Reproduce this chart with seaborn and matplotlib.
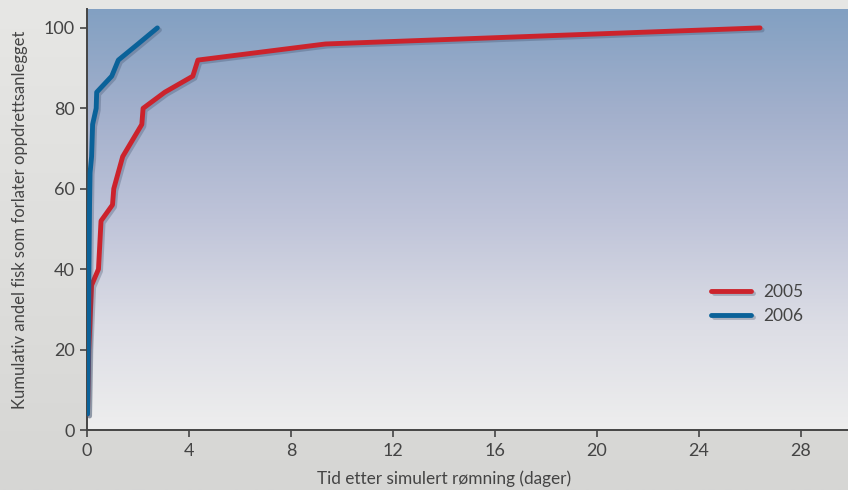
"""Cumulative share of escaped fish leaving the farm, 2005 vs 2006."""

import matplotlib
matplotlib.use("Agg")
import matplotlib.pyplot as plt
import matplotlib.patheffects as pe
import numpy as np
import pandas as pd
import seaborn as sns
from matplotlib.colors import LinearSegmentedColormap

# data
days_2005 = [0.02, 0.07, 0.18, 0.45, 0.55, 1.0, 1.05, 1.4, 2.15, 2.2, 3.05, 4.15, 4.35, 9.35, 26.4]
share_2005 = [4, 20, 36, 40, 52, 56, 60, 68, 76, 80, 84, 88, 92, 96, 100]
days_2006 = [0.02, 0.05, 0.07, 0.1, 0.12, 0.18, 0.22, 0.36, 0.38, 0.97, 1.23, 2.0, 2.76]
share_2006 = [4, 20, 36, 56, 64, 68, 76, 80, 84, 88, 92, 96, 100]
x_ticks = [0, 4, 8, 12, 16, 20, 24, 28]
y_ticks = [0, 20, 40, 60, 80, 100]

df = pd.concat([
    pd.DataFrame({"dager": days_2005, "andel": share_2005, "år": "2005"}),
    pd.DataFrame({"dager": days_2006, "andel": share_2006, "år": "2006"}),
])
palette = {"2005": "#cc232c", "2006": "#0b6299"}
text_col = "#444444"
x_max = 29.85

sns.set_style("ticks")
plt.rcParams["font.family"] = ["Lato", "DejaVu Sans"]

fig = plt.figure(figsize=(8.48, 4.9), dpi=100)

# figure background gradient
bg = fig.add_axes([0, 0, 1, 1], zorder=-10)
bg.imshow(np.linspace(0, 1, 256).reshape(-1, 1), aspect="auto",
          cmap=LinearSegmentedColormap.from_list("fig", ["#e7e7e5", "#d6d6d4"]),
          extent=[0, 1, 0, 1])
bg.axis("off")

ax = fig.add_axes([87 / 848, 60 / 490, 1 - 87 / 848, (430 - 9) / 490])
ax.set_xlim(0, x_max)
ax.set_ylim(0, 104.7)
ax.imshow(np.linspace(0, 1, 256).reshape(-1, 1), aspect="auto", zorder=0,
          cmap=LinearSegmentedColormap.from_list(
              "ax", ["#82a0c2", "#a3b0cc", "#bfc4d9", "#dcdde5", "#eeeeee"]),
          extent=[0, x_max, 0, 104.7])

sns.lineplot(data=df, x="dager", y="andel", hue="år", palette=palette,
             sort=False, estimator=None, linewidth=3.5, ax=ax, zorder=3)
for line in ax.lines:
    line.set_solid_capstyle("round")
    line.set_solid_joinstyle("round")
    line.set_path_effects([
        pe.SimpleLineShadow(offset=(1.5, -1.5), shadow_color="#3a4a66", alpha=0.3),
        pe.Normal(),
    ])

ax.set_xticks(x_ticks)
ax.set_yticks(y_ticks)
ax.tick_params(colors=text_col, labelsize=13, length=5, width=1.2, pad=4)
for side in ("left", "bottom"):
    ax.spines[side].set_color(text_col)
    ax.spines[side].set_linewidth(1.4)
sns.despine(ax=ax)

ax.set_xlabel("Tid etter simulert rømning (dager)", color=text_col, fontsize=12.4)
ax.xaxis.set_label_coords(14 / x_max, -0.097)
ax.set_ylabel("Kumulativ andel fisk som forlater oppdrettsanlegget", color=text_col,
              fontsize=12)
ax.yaxis.set_label_coords(-0.077, 0.5)

handles, labels = ax.get_legend_handles_labels()
leg = ax.legend(handles, labels, frameon=False, loc="center left",
                bbox_to_anchor=(0.80, 0.30), handlelength=2.3, fontsize=12.5,
                labelspacing=0.45, handletextpad=0.7)
for h in leg.get_lines():
    h.set_linewidth(3.5)
    h.set_solid_capstyle("round")
for t in leg.get_texts():
    t.set_color(text_col)

fig.savefig("out.png", dpi=100)
